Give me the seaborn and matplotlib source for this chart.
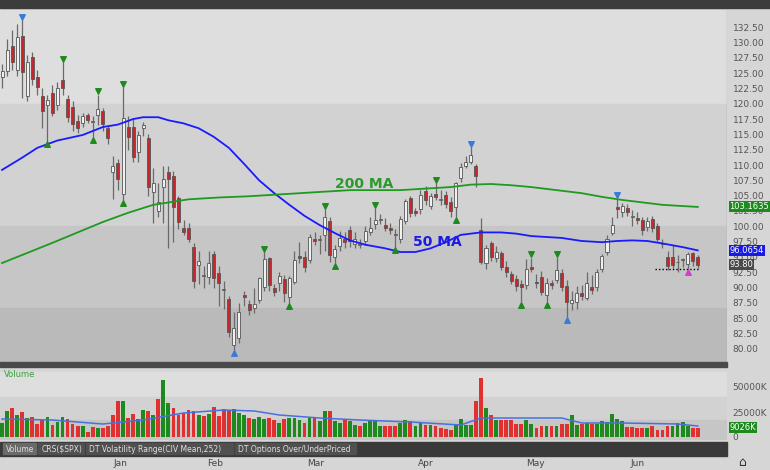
import numpy as np
import pandas as pd
import matplotlib
matplotlib.use("Agg")
import matplotlib.pyplot as plt
import seaborn as sns
from matplotlib.patches import Rectangle

# ---- data ----
opens = [124.3, 125.3, 129.4, 125.5, 131.0, 121.2, 127.6, 124.3, 121.2, 119.8, 121.7, 119.8, 123.9, 120.8, 119.5, 117.2,
         116.8, 118.1, 117.0, 118.1, 118.8, 116.0, 108.8, 110.3, 105.3, 116.2, 116.2, 112.1, 116.0, 114.4, 105.6, 102.5,
         106.4, 108.8, 108.2, 104.6, 99.7, 99.7, 96.6, 93.7, 91.9, 91.7, 95.5, 92.4, 89.6, 88.1, 80.6, 81.8, 88.8, 87.3,
         86.7, 88.0, 90.1, 94.8, 89.9, 90.7, 91.4, 88.5, 90.9, 95.1, 95.0, 94.5, 97.9, 97.7, 98.6, 100.9, 95.0, 96.8,
         97.9, 99.4, 97.1, 97.0, 97.6, 99.1, 100.4, 101.0,
         100.2, 99.7, 98.6, 97.9, 100.9, 104.6, 102.5, 102.8, 105.8, 103.3, 105.3, 104.3, 105.1, 104.0, 103.1, 107.8,
         109.8, 110.5, 109.8, 99.4, 94.0, 97.2, 94.8, 95.6, 93.4, 92.2, 91.4, 90.6, 90.4, 93.4, 90.9, 91.7, 88.8, 90.7,
         91.2, 92.4, 90.3, 87.5, 87.7, 89.1, 88.3, 90.1, 90.1, 93.0, 95.8, 98.9, 103.1, 102.3, 103.0, 101.5, 101.4,
         101.0, 99.9, 101.2, 100.0, 97.1, 95.0, 95.0, 94.1, 94.5, 93.8, 95.6, 95.0]
closes = [125.3, 128.7, 126.8, 130.9, 125.2, 126.8, 124.0, 122.7, 118.8, 120.6, 118.5, 122.5, 122.5, 117.8, 116.7, 116.0,
          118.0, 117.3, 117.1, 119.1, 116.7, 114.4, 109.8, 107.7, 117.6, 114.6, 111.3, 114.9, 116.5, 106.4, 107.0, 104.0,
          107.7, 107.7, 103.1, 100.7, 99.1, 97.9, 91.1, 94.3, 92.0, 94.0, 91.6, 90.7, 89.7, 82.7, 83.4, 86.0, 88.4, 86.3,
          87.3, 91.5, 94.7, 90.4, 89.3, 91.9, 89.1, 91.6, 94.5, 94.8, 93.4, 98.2, 97.6, 97.8, 101.5, 95.3, 96.3, 98.1,
          97.4, 97.6, 97.9, 97.1, 99.2, 99.7, 101.0, 101.1,
          99.7, 99.4, 98.7, 101.2, 104.1, 102.2, 102.2, 105.1, 104.3, 105.0, 104.8, 104.4, 103.6, 102.5, 107.0, 109.6,
          110.5, 111.6, 108.2, 94.2, 96.4, 95.0, 95.8, 93.4, 92.5, 91.1, 90.2, 90.1, 93.0, 93.0, 90.7, 89.3, 90.8, 90.4,
          92.9, 90.1, 87.7, 88.0, 89.1, 88.6, 90.7, 89.6, 92.5, 95.1, 97.9, 100.2, 102.8, 103.3, 102.3, 101.6, 101.0,
          99.4, 100.9, 99.7, 97.9, 97.2, 93.5, 93.7, 94.2, 94.6, 95.5, 94.3, 93.7]
highs = [126.5, 130.5, 132, 133, 133.6, 128, 128.5, 125.5, 122.5, 121.5, 123, 123.5, 126.8, 121.5, 120.5, 118.2,
         118.5, 118.5, 118, 121.5, 119.3, 116.5, 111.5, 111, 122.7, 118, 117.5, 115.5, 117, 115, 109.5, 107,
         109.8, 109.8, 109, 105, 101, 100.5, 97.2, 96, 93.5, 96, 96, 93.5, 91, 88.6, 86, 87.5, 89.5, 88,
         90, 91.8, 95.8, 95, 90.5, 92.5, 92, 91.9, 96, 97.5, 96, 98.8, 99, 98.5, 102.8, 101.5, 97, 99.3,
         99, 100, 99, 98, 100, 101.5, 103, 102,
         101.3, 100.5, 99.5, 101.6, 104.5, 105, 103, 106, 106.5, 105.5, 107, 106, 105.7, 104.8, 107.2, 110.3,
         111.5, 113, 110.2, 101.3, 97, 97.6, 96.8, 96, 94.3, 92.7, 92, 91.3, 94.7, 94.9, 92.2, 92.7, 91.5, 91.3,
         95, 93, 91.3, 89.5, 90.3, 90.4, 92.5, 92, 93, 95.5, 98.5, 101.5, 104.6, 103.8, 103.6, 102.7, 102.3,
         101.5, 101.5, 101.6, 100.5, 98, 96, 97, 95.3, 94.8, 95.8, 95.8, 95.3]
lows = [122.5, 124.5, 125.5, 124.5, 121, 120.5, 123, 121.5, 116, 114, 118, 119, 121.5, 117, 115.5, 115.3,
        116.2, 116.8, 114.6, 116.5, 115.5, 113.5, 104.5, 106, 104.3, 112.5, 110.5, 110.5, 114.7, 105, 100.5, 101.5,
        100.5, 96.5, 97.5, 99.5, 98.5, 97.5, 90, 90.5, 90, 90.5, 90, 87, 86.5, 82, 79.8, 81, 87, 85.5,
        85.8, 87.5, 89.5, 89.5, 88.6, 89.5, 87.7, 87.5, 90.5, 94, 92.5, 94, 97, 95.5, 96, 94.2, 94, 96,
        96.5, 96.7, 96.5, 96.5, 97, 98.6, 99.6, 100.3,
        99.2, 98.8, 96.6, 97.2, 100.3, 101.5, 101.7, 102, 103.5, 102.8, 104.3, 103.5, 103, 101.5, 101.5, 107.3,
        109.5, 110.2, 106.4, 93.8, 93, 94.4, 94.2, 92.8, 91.7, 90.5, 89.5, 87.7, 89.8, 92.5, 90, 88.8, 87.7, 89.8,
        90.7, 89.5, 85.2, 86.3, 86.5, 88, 88, 89, 89.5, 92.5, 95.3, 98.5, 101.3, 101.5, 101.7, 100, 100.3,
        98.5, 99.3, 99, 97.5, 96.5, 92.8, 93.2, 92.5, 93.4, 93, 93.5, 93.2]

volumes = [14000, 25600, 29000, 22300, 25000, 19000, 20000, 13300, 17300, 20000, 12300, 14700, 20000, 18000, 13300,
           10700, 10700, 4700, 9700, 9000, 9000, 10700, 22300, 35700, 36300, 19000, 23300, 18000, 26700, 25700,
           22300, 38000, 56700, 34000, 29000, 22300, 24000, 27300, 25700, 22300, 21300, 23300, 29700, 20700, 28000,
           26700, 28000, 24000, 22300, 19000, 18000, 20000, 18000, 19000, 17300, 14000, 18000, 19000, 19000, 17300,
           14000, 19000, 20000, 15700, 25700, 25700, 15700, 14000, 18000, 15700, 12300, 10700, 14000, 15700, 16700,
           10700, 10700, 10700, 11300, 14000, 17300, 15700, 10700, 14700, 12300, 12300, 10700, 9000, 8000, 7300,
           13300, 18000, 12300, 12300, 35700, 59000, 29000, 22300, 17300, 17300, 16700, 16700, 13300, 13300, 16700,
           13300, 9000, 11300, 11300, 11300, 10700, 13300, 13300, 22300, 12300, 13300, 14000, 13300, 13300, 15700,
           14700, 23300, 18000, 15700, 10000, 10000, 9000, 9000, 9000, 10700, 7300, 7300, 10700, 10700, 14000,
           14700, 10700, 9000, 9026]

ma50_idx = [0, 4, 7, 11, 16, 20, 23, 26, 28, 31, 33, 36, 39, 42, 45, 48, 51, 54, 57, 60, 63, 66, 69, 72, 76, 79, 82,
            85, 88, 91, 95, 99, 102, 105, 111, 115, 119, 122, 125, 128, 131, 135, 138]
ma50_val = [109.2, 111.2, 112.8, 114.0, 114.9, 116.2, 116.6, 117.5, 117.8, 117.8, 117.3, 116.8, 116.0, 114.6, 112.8,
            110.2, 107.5, 105.4, 103.5, 101.7, 100.2, 98.9, 97.7, 97.0, 96.4, 95.8, 95.8, 96.4, 97.4, 98.6, 99.0,
            99.0, 98.8, 98.4, 98.1, 97.6, 97.4, 97.6, 97.7, 97.6, 97.2, 96.6, 96.07]
ma200_idx = [0, 10, 20, 25, 30, 37, 43, 49, 59, 69, 79, 89, 93, 97, 101, 105, 110, 115, 119, 123, 127, 131, 135, 138]
ma200_val = [94.0, 97.3, 100.7, 102.2, 103.5, 104.4, 104.7, 104.9, 105.4, 105.9, 105.9, 106.4, 106.8, 106.9, 106.7,
             106.4, 105.9, 105.4, 104.8, 104.3, 103.9, 103.5, 103.3, 103.16]
vavg_idx = [0, 10, 20, 28, 36, 44, 50, 55, 63, 71, 81, 91, 95, 99, 111, 115, 123, 134, 138]
vavg_val = [18000, 17000, 13000, 17000, 24000, 27000, 26000, 22000, 19000, 17000, 15000, 12000, 19000, 19000, 19000,
            14000, 14000, 13000, 11000]

top_green = [12, 19, 24, 52, 64, 74, 86, 105, 110]
bot_green = [9, 18, 24, 57, 66, 78, 90, 103, 108]
top_blue = [4, 93, 122]
bot_blue = [46, 112]
bot_pink = [136]

price_ticks = [80, 82.5, 85, 87.5, 90, 92.5, 95, 97.5, 100, 102.5, 105, 107.5, 110, 112.5, 115, 117.5, 120, 122.5,
               125, 127.5, 130, 132.5]
month_labels = ["Jan", "Feb", "Mar", "Apr", "May", "Jun"]
month_pos = [23.4, 42.3, 62.3, 84.0, 105.8, 126.0]
tabs = ["Volume", "CRS($SPX)", "DT Volatility Range(CIV Mean,252)", "DT Options Over/UnderPriced"]

# ---- layout ----
W, H = 770, 470
fig = plt.figure(figsize=(7.7, 4.7), dpi=100)
fig.patch.set_facecolor("#d6d6d6")


def box(x0, y0, x1, y1):
    return [x0 / W, 1 - y1 / H, (x1 - x0) / W, (y1 - y0) / H]


n = len(closes)
xlim = (-0.4, 143.8)

# price panel
ax = fig.add_axes(box(0, 10, 727, 362))
ax.set_xlim(xlim)
ax.set_ylim(77.85, 135.3)
ax.axhspan(120, 140, color="#dedede", zorder=0)
ax.axhspan(100, 120, color="#d2d2d2", zorder=0)
ax.axhspan(86.6, 100, color="#c6c6c6", zorder=0)
ax.axhspan(70, 86.6, color="#bababa", zorder=0)

for i in range(n):
    o, c = opens[i], closes[i]
    up = c >= o
    ax.vlines(i, lows[i], highs[i], color="#6a6a6a", lw=0.9, zorder=2)
    bot, hgt = min(o, c), max(abs(c - o), 0.15)
    ax.add_patch(Rectangle((i - 0.3, bot), 0.6, hgt, facecolor="#f0f0f0" if up else "#c8262a",
                           edgecolor="#555555", lw=0.6, zorder=3))

sns.lineplot(x=ma50_idx, y=ma50_val, ax=ax, color="#1a1aff", lw=1.3, zorder=4)
sns.lineplot(x=ma200_idx, y=ma200_val, ax=ax, color="#1e9a1e", lw=1.3, zorder=4)
ax.text(66, 106.2, "200 MA", color="#2a9a2a", fontsize=10, fontweight="bold")
ax.text(81.5, 96.8, "50 MA", color="#1a1ae0", fontsize=10, fontweight="bold")
ax.hlines(93.0, 129.5, 138.5, color="black", lw=1, linestyles=(0, (1, 1.5)), zorder=5)

mk = dict(s=16, zorder=5)
ax.scatter(top_green, [highs[i] + 0.5 for i in top_green], marker="v", color="#1e8a1e", **mk)
ax.scatter(bot_green, [lows[i] - 0.5 for i in bot_green], marker="^", color="#1e8a1e", **mk)
ax.scatter(top_blue, [highs[i] + 0.5 for i in top_blue], marker="v", color="#3a7ad8", **mk)
ax.scatter(bot_blue, [lows[i] - 0.5 for i in bot_blue], marker="^", color="#3a7ad8", **mk)
ax.scatter(bot_pink, [lows[i] - 0.5 for i in bot_pink], marker="^", color="#d040d0", **mk)

ax.set_yticks(price_ticks)
ax.yaxis.tick_right()
ax.set_yticklabels([f"{t:.2f}" for t in price_ticks], fontsize=6.5, color="#555555")
ax.tick_params(axis="y", length=0, pad=4)
ax.set_xticks([])
for s in ax.spines.values():
    s.set_visible(False)
ax.axvline(143.8, color="#a8a8a8", lw=1)

# price tags (drawn over the tick labels, as in the terminal)
for val, txt, fc in [(103.16, "103.1635", "#1c8a1c"), (96.07, "96.0654", "#1a1ae8"), (93.8, "93.80", "#4a4a4a")]:
    ax.text(144.3, val, txt, fontsize=6, color="white", va="center", clip_on=False, zorder=10,
            bbox=dict(boxstyle="square,pad=0.12", fc=fc, ec="none"))

# volume panel
vax = fig.add_axes(box(0, 372, 727, 440))
vax.set_xlim(xlim)
vax.set_ylim(-3000, 65000)
vax.axhspan(40000, 70000, color="#dedede", zorder=0)
vax.axhspan(17000, 40000, color="#d2d2d2", zorder=0)
vax.axhspan(-5000, 17000, color="#c6c6c6", zorder=0)
vv = volumes[:n]
vcol = ["#1e8a1e" if i == 0 or closes[i] >= closes[i - 1] else "#e03030" for i in range(len(vv))]
vax.bar(np.arange(len(vv)), vv, width=0.75, color=vcol, zorder=2)
sns.lineplot(x=vavg_idx, y=vavg_val, ax=vax, color="#4a70e0", lw=1.1, zorder=3)
vax.text(0.3, 60000, "Volume", fontsize=6, color="#3aa03a")
vax.set_yticks([0, 25000, 50000])
vax.yaxis.tick_right()
vax.set_yticklabels(["0", "25000K", "50000K"], fontsize=6.5, color="#555555")
vax.tick_params(axis="y", length=0, pad=4)
vax.set_xticks([])
for s in vax.spines.values():
    s.set_visible(False)
vax.text(144.3, 9026, "9026K", fontsize=6, color="white", va="center", clip_on=False, zorder=10,
         bbox=dict(boxstyle="square,pad=0.12", fc="#1c8a1c", ec="none"))

# chrome: toolbar, separators, tab bar
fig.patches.append(Rectangle((0, 1 - 8 / H), 1, 8 / H, transform=fig.transFigure, color="#3c3c3c"))
fig.patches.append(Rectangle((0, 1 - 367 / H), 727 / W, 5 / H, transform=fig.transFigure, color="#4a4a4a"))
fig.patches.append(Rectangle((0, 1 - 456 / H), 727 / W, 14 / H, transform=fig.transFigure, color="#3a3a3a"))
tx = 3
for t in tabs:
    w = 4.2 * len(t) + 8
    fig.patches.append(Rectangle((tx / W, 1 - 454 / H), w / W, 11 / H, transform=fig.transFigure,
                                 color="#6a6a6a" if t == "Volume" else "#505050"))
    fig.text((tx + 3) / W, 1 - 449 / H, t, fontsize=5.5, color="#e0e0e0", va="center")
    tx += w + 2
for lab, p in zip(month_labels, month_pos):
    fig.text((2 + p * 5.04) / W, 1 - 464 / H, lab, fontsize=6.5, color="#444444", ha="center", va="center")
fig.text(738 / W, 1 - 463 / H, "\u2302", fontsize=9, color="#333333", va="center")

fig.savefig("out.png", dpi=100)
